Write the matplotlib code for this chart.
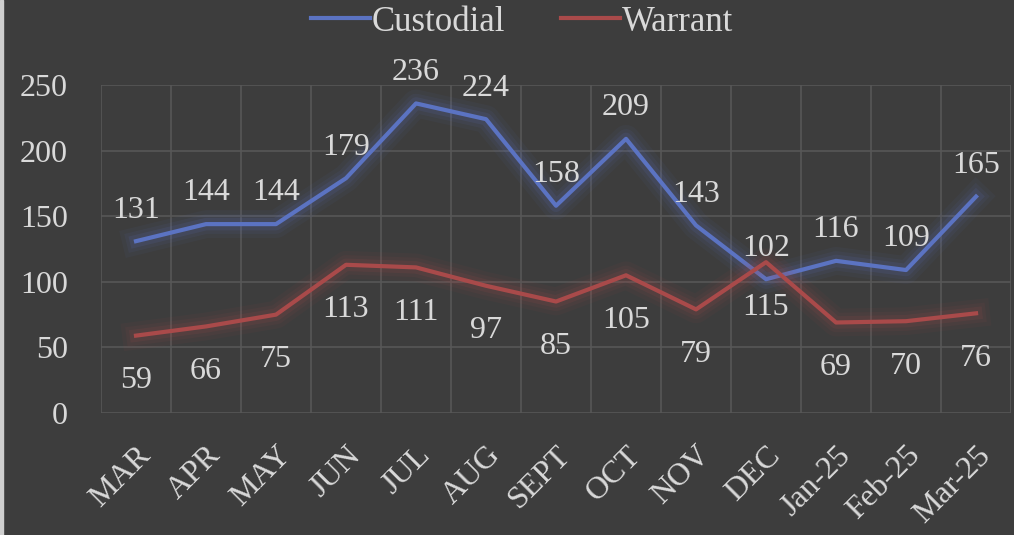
import matplotlib.pyplot as plt
import matplotlib.patheffects as pe
from matplotlib.patches import Rectangle
import numpy as np

months = ["MAR", "APR", "MAY", "JUN", "JUL", "AUG", "SEPT", "OCT", "NOV",
          "DEC", "Jan-25", "Feb-25", "Mar-25"]
custodial = [131, 144, 144, 179, 236, 224, 158, 209, 143, 102, 116, 109, 165]
warrant = [59, 66, 75, 113, 111, 97, 85, 105, 79, 115, 69, 70, 76]

bg = "#3d3d3d"
txt = "#d9d9d9"
blue = "#5b73c2"
red = "#a94a4a"

plt.rcParams["font.family"] = ["Liberation Serif", "DejaVu Serif"]

fig = plt.figure(figsize=(10.14, 5.35), dpi=100, facecolor=bg)
ax = fig.add_axes([0.0996, 0.228, 0.8975, 0.613], facecolor=bg)

# thin light border on the left edge, as in the screenshot
fig.patches.append(Rectangle((0, 0), 3 / 1014, 1, transform=fig.transFigure,
                             color="#cfcfcf", zorder=10))

x = np.arange(len(months))


def glow(color):
    return [pe.Stroke(linewidth=20, foreground=color, alpha=0.06),
            pe.Stroke(linewidth=14, foreground=color, alpha=0.08),
            pe.Stroke(linewidth=9, foreground=color, alpha=0.12),
            pe.Normal()]


ax.plot(x, custodial, color=blue, lw=3, label="Custodial",
        path_effects=glow(blue), zorder=3)
ax.plot(x, warrant, color=red, lw=3, label="Warrant",
        path_effects=glow(red), zorder=3)

for i, v in enumerate(custodial):
    ax.annotate(str(v), (i, v), xytext=(0, 12), textcoords="offset points",
                ha="center", va="bottom", color=txt, fontsize=23)
for i, v in enumerate(warrant):
    ax.annotate(str(v), (i, v), xytext=(0, -22), textcoords="offset points",
                ha="center", va="top", color=txt, fontsize=23)

ax.set_xlim(-0.5, len(months) - 0.5)
ax.set_ylim(0, 250)
ax.set_yticks(range(0, 251, 50))
ax.set_xticks(x)
ax.set_xticklabels(months, rotation=45, ha="right", rotation_mode="anchor")
ax.set_xticks(np.arange(-0.5, len(months), 1), minor=True)
ax.tick_params(axis="both", which="both", length=0, colors=txt, labelsize=23)
ax.tick_params(axis="x", which="major", pad=20)
ax.tick_params(axis="y", pad=24)

ax.grid(True, axis="y", color="#575757", lw=1.2)
ax.grid(True, axis="x", which="minor", color="#575757", lw=1.2)
ax.grid(False, axis="x", which="major")
for s in ax.spines.values():
    s.set_visible(False)

leg = fig.legend(loc="upper center", bbox_to_anchor=(0.515, 1.048), ncol=2,
                 frameon=False, fontsize=25, labelcolor=txt,
                 handlelength=1.7, columnspacing=1.6, handletextpad=0.05)
for h in leg.legend_handles:
    h.set_path_effects([])

fig.savefig("out.png", dpi=100, facecolor=bg)
